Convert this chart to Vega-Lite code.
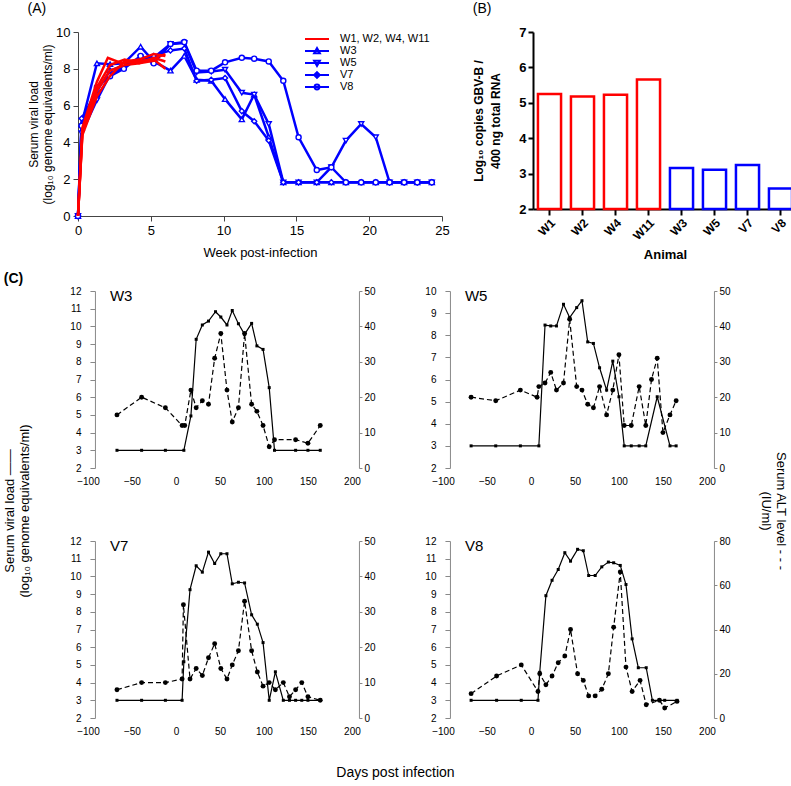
{
  "$schema": "https://vega.github.io/schema/vega-lite/v6.json",
  "padding": {"left": 3, "top": 2, "right": 0, "bottom": 0},
  "config": {
    "font": "Liberation Sans",
    "view": {"stroke": null},
    "axis": {"labelColor": "black", "titleColor": "black", "grid": false, "titleFontWeight": "normal", "labelFlush": false, "labelOverlap": false},
    "title": {"color": "black", "fontWeight": "normal"},
    "legend": {"labelColor": "black"}
  },
  "datasets": {
    "a": [
      {"id":"W1","grp":"W1, W2, W4, W11","w":0,"v":0},{"id":"W1","grp":"W1, W2, W4, W11","w":0.3,"v":4.8},{"id":"W1","grp":"W1, W2, W4, W11","w":1.3,"v":7.3},{"id":"W1","grp":"W1, W2, W4, W11","w":2.05,"v":8.6},{"id":"W1","grp":"W1, W2, W4, W11","w":3,"v":8.3},{"id":"W1","grp":"W1, W2, W4, W11","w":4,"v":8.4},{"id":"W1","grp":"W1, W2, W4, W11","w":5,"v":8.5},{"id":"W1","grp":"W1, W2, W4, W11","w":6,"v":8.8},
      {"id":"W2","grp":"W1, W2, W4, W11","w":0,"v":0},{"id":"W2","grp":"W1, W2, W4, W11","w":0.3,"v":4.5},{"id":"W2","grp":"W1, W2, W4, W11","w":1.3,"v":6.8},{"id":"W2","grp":"W1, W2, W4, W11","w":2.2,"v":7.9},{"id":"W2","grp":"W1, W2, W4, W11","w":3.2,"v":8.2},{"id":"W2","grp":"W1, W2, W4, W11","w":4.2,"v":8.3},{"id":"W2","grp":"W1, W2, W4, W11","w":5.2,"v":8.6},{"id":"W2","grp":"W1, W2, W4, W11","w":6,"v":8.4},
      {"id":"W4","grp":"W1, W2, W4, W11","w":0,"v":0},{"id":"W4","grp":"W1, W2, W4, W11","w":0.3,"v":4.4},{"id":"W4","grp":"W1, W2, W4, W11","w":1.3,"v":6.5},{"id":"W4","grp":"W1, W2, W4, W11","w":2.2,"v":7.6},{"id":"W4","grp":"W1, W2, W4, W11","w":3.2,"v":8.4},{"id":"W4","grp":"W1, W2, W4, W11","w":4.2,"v":8.5},{"id":"W4","grp":"W1, W2, W4, W11","w":5.2,"v":8.8},{"id":"W4","grp":"W1, W2, W4, W11","w":6,"v":8.7},
      {"id":"W11","grp":"W1, W2, W4, W11","w":0,"v":0},{"id":"W11","grp":"W1, W2, W4, W11","w":0.3,"v":4.6},{"id":"W11","grp":"W1, W2, W4, W11","w":1.3,"v":7.0},{"id":"W11","grp":"W1, W2, W4, W11","w":2.2,"v":8.2},{"id":"W11","grp":"W1, W2, W4, W11","w":3.2,"v":8.5},{"id":"W11","grp":"W1, W2, W4, W11","w":4.2,"v":8.3},{"id":"W11","grp":"W1, W2, W4, W11","w":5.3,"v":8.45},{"id":"W11","grp":"W1, W2, W4, W11","w":6,"v":8.0},
      {"id":"W3","grp":"W3","w":0,"v":0},{"id":"W3","grp":"W3","w":0.25,"v":5.0},{"id":"W3","grp":"W3","w":1.3,"v":8.3},{"id":"W3","grp":"W3","w":2.2,"v":8.25},{"id":"W3","grp":"W3","w":3.15,"v":8.3},{"id":"W3","grp":"W3","w":4.3,"v":9.2},{"id":"W3","grp":"W3","w":5.2,"v":8.4},{"id":"W3","grp":"W3","w":6.35,"v":7.9},{"id":"W3","grp":"W3","w":7.3,"v":8.7},{"id":"W3","grp":"W3","w":8.15,"v":7.4},{"id":"W3","grp":"W3","w":9.15,"v":7.35},{"id":"W3","grp":"W3","w":10.1,"v":6.35},{"id":"W3","grp":"W3","w":11.25,"v":5.25},{"id":"W3","grp":"W3","w":12.1,"v":6.6},{"id":"W3","grp":"W3","w":13.1,"v":4.3},{"id":"W3","grp":"W3","w":14.1,"v":1.83},{"id":"W3","grp":"W3","w":15.15,"v":1.83},{"id":"W3","grp":"W3","w":16.4,"v":1.83},{"id":"W3","grp":"W3","w":17.4,"v":1.83},{"id":"W3","grp":"W3","w":18.4,"v":1.83},{"id":"W3","grp":"W3","w":19.45,"v":1.83},{"id":"W3","grp":"W3","w":20.45,"v":1.83},{"id":"W3","grp":"W3","w":21.4,"v":1.83},{"id":"W3","grp":"W3","w":22.4,"v":1.83},{"id":"W3","grp":"W3","w":23.3,"v":1.83},{"id":"W3","grp":"W3","w":24.3,"v":1.83},
      {"id":"W5","grp":"W5","w":0,"v":0},{"id":"W5","grp":"W5","w":0.25,"v":4.5},{"id":"W5","grp":"W5","w":1.3,"v":6.3},{"id":"W5","grp":"W5","w":2.2,"v":7.7},{"id":"W5","grp":"W5","w":3.15,"v":8.1},{"id":"W5","grp":"W5","w":4.3,"v":8.6},{"id":"W5","grp":"W5","w":5.2,"v":8.6},{"id":"W5","grp":"W5","w":6.35,"v":9.35},{"id":"W5","grp":"W5","w":7.3,"v":9.4},{"id":"W5","grp":"W5","w":8.15,"v":7.8},{"id":"W5","grp":"W5","w":9.15,"v":7.85},{"id":"W5","grp":"W5","w":10.1,"v":7.95},{"id":"W5","grp":"W5","w":11.25,"v":6.7},{"id":"W5","grp":"W5","w":12.1,"v":6.6},{"id":"W5","grp":"W5","w":13.1,"v":5.0},{"id":"W5","grp":"W5","w":14.1,"v":1.83},{"id":"W5","grp":"W5","w":15.15,"v":1.83},{"id":"W5","grp":"W5","w":16.4,"v":1.83},{"id":"W5","grp":"W5","w":17.4,"v":2.65},{"id":"W5","grp":"W5","w":18.4,"v":4.1},{"id":"W5","grp":"W5","w":19.45,"v":5.0},{"id":"W5","grp":"W5","w":20.45,"v":4.28},{"id":"W5","grp":"W5","w":21.4,"v":1.83},{"id":"W5","grp":"W5","w":22.4,"v":1.83},{"id":"W5","grp":"W5","w":23.3,"v":1.83},{"id":"W5","grp":"W5","w":24.3,"v":1.83},
      {"id":"V7","grp":"V7","w":0,"v":0},{"id":"V7","grp":"V7","w":0.25,"v":5.3},{"id":"V7","grp":"V7","w":1.3,"v":6.8},{"id":"V7","grp":"V7","w":2.2,"v":7.9},{"id":"V7","grp":"V7","w":3.15,"v":8.2},{"id":"V7","grp":"V7","w":4.3,"v":8.5},{"id":"V7","grp":"V7","w":5.2,"v":8.7},{"id":"V7","grp":"V7","w":6.35,"v":9.0},{"id":"V7","grp":"V7","w":7.3,"v":9.1},{"id":"V7","grp":"V7","w":8.15,"v":7.35},{"id":"V7","grp":"V7","w":9.15,"v":7.4},{"id":"V7","grp":"V7","w":10.1,"v":7.5},{"id":"V7","grp":"V7","w":11.25,"v":5.7},{"id":"V7","grp":"V7","w":12.1,"v":5.15},{"id":"V7","grp":"V7","w":13.1,"v":4.1},{"id":"V7","grp":"V7","w":14.1,"v":1.83},{"id":"V7","grp":"V7","w":15.15,"v":1.83},{"id":"V7","grp":"V7","w":16.4,"v":1.83},{"id":"V7","grp":"V7","w":17.4,"v":1.83},{"id":"V7","grp":"V7","w":18.4,"v":1.83},{"id":"V7","grp":"V7","w":19.45,"v":1.83},{"id":"V7","grp":"V7","w":20.45,"v":1.83},{"id":"V7","grp":"V7","w":21.4,"v":1.83},{"id":"V7","grp":"V7","w":22.4,"v":1.83},{"id":"V7","grp":"V7","w":23.3,"v":1.83},{"id":"V7","grp":"V7","w":24.3,"v":1.83},
      {"id":"V8","grp":"V8","w":0,"v":0},{"id":"V8","grp":"V8","w":0.25,"v":4.9},{"id":"V8","grp":"V8","w":1.3,"v":7.0},{"id":"V8","grp":"V8","w":2.2,"v":7.6},{"id":"V8","grp":"V8","w":3.15,"v":8.0},{"id":"V8","grp":"V8","w":4.3,"v":8.7},{"id":"V8","grp":"V8","w":5.2,"v":8.3},{"id":"V8","grp":"V8","w":6.35,"v":9.35},{"id":"V8","grp":"V8","w":7.3,"v":9.45},{"id":"V8","grp":"V8","w":8.15,"v":7.9},{"id":"V8","grp":"V8","w":9.15,"v":7.9},{"id":"V8","grp":"V8","w":10.1,"v":8.35},{"id":"V8","grp":"V8","w":11.25,"v":8.6},{"id":"V8","grp":"V8","w":12.1,"v":8.55},{"id":"V8","grp":"V8","w":13.1,"v":8.4},{"id":"V8","grp":"V8","w":14.1,"v":7.35},{"id":"V8","grp":"V8","w":15.15,"v":4.28},{"id":"V8","grp":"V8","w":16.4,"v":2.5},{"id":"V8","grp":"V8","w":17.4,"v":2.65},{"id":"V8","grp":"V8","w":18.4,"v":1.83},{"id":"V8","grp":"V8","w":19.45,"v":1.83},{"id":"V8","grp":"V8","w":20.45,"v":1.83},{"id":"V8","grp":"V8","w":21.4,"v":1.83},{"id":"V8","grp":"V8","w":22.4,"v":1.83},{"id":"V8","grp":"V8","w":23.3,"v":1.83},{"id":"V8","grp":"V8","w":24.3,"v":1.83}
    ],
    "b": [
      {"animal":"W1","g":"red","v":5.25},{"animal":"W2","g":"red","v":5.18},{"animal":"W4","g":"red","v":5.23},{"animal":"W11","g":"red","v":5.66},
      {"animal":"W3","g":"blue","v":3.16},{"animal":"W5","g":"blue","v":3.11},{"animal":"V7","g":"blue","v":3.24},{"animal":"V8","g":"blue","v":2.58}
    ],
    "c": [
      {"a":"W3","k":"vl","d":-67,"v":3},{"a":"W3","k":"vl","d":-39,"v":3},{"a":"W3","k":"vl","d":-12,"v":3},{"a":"W3","k":"vl","d":9,"v":3},{"a":"W3","k":"vl","d":17,"v":4.94},{"a":"W3","k":"vl","d":23,"v":9.27},{"a":"W3","k":"vl","d":30,"v":10.08},{"a":"W3","k":"vl","d":37,"v":10.3},{"a":"W3","k":"vl","d":45,"v":10.83},{"a":"W3","k":"vl","d":51,"v":10.53},{"a":"W3","k":"vl","d":58,"v":10.08},{"a":"W3","k":"vl","d":64,"v":10.9},{"a":"W3","k":"vl","d":71,"v":10.15},{"a":"W3","k":"vl","d":78,"v":9.55},{"a":"W3","k":"vl","d":86,"v":10.17},{"a":"W3","k":"vl","d":92,"v":8.9},{"a":"W3","k":"vl","d":99,"v":8.7},{"a":"W3","k":"vl","d":106,"v":6.54},{"a":"W3","k":"vl","d":112,"v":3},{"a":"W3","k":"vl","d":136,"v":3},{"a":"W3","k":"vl","d":150,"v":3},{"a":"W3","k":"vl","d":164,"v":3},
      {"a":"W3","k":"alt","d":-67,"v":15},{"a":"W3","k":"alt","d":-39,"v":20},{"a":"W3","k":"alt","d":-12,"v":17},{"a":"W3","k":"alt","d":7,"v":12},{"a":"W3","k":"alt","d":10,"v":12},{"a":"W3","k":"alt","d":17,"v":22},{"a":"W3","k":"alt","d":23,"v":17},{"a":"W3","k":"alt","d":30,"v":19},{"a":"W3","k":"alt","d":37,"v":18},{"a":"W3","k":"alt","d":44,"v":31},{"a":"W3","k":"alt","d":51,"v":38},{"a":"W3","k":"alt","d":58,"v":22},{"a":"W3","k":"alt","d":64,"v":13},{"a":"W3","k":"alt","d":71,"v":17},{"a":"W3","k":"alt","d":78,"v":38},{"a":"W3","k":"alt","d":86,"v":18},{"a":"W3","k":"alt","d":92,"v":16},{"a":"W3","k":"alt","d":99,"v":12},{"a":"W3","k":"alt","d":106,"v":6},{"a":"W3","k":"alt","d":112,"v":8},{"a":"W3","k":"alt","d":136,"v":8},{"a":"W3","k":"alt","d":150,"v":7},{"a":"W3","k":"alt","d":164,"v":12},
      {"a":"W5","k":"vl","d":-68,"v":3},{"a":"W5","k":"vl","d":-40,"v":3},{"a":"W5","k":"vl","d":-12,"v":3},{"a":"W5","k":"vl","d":9,"v":3},{"a":"W5","k":"vl","d":16,"v":8.46},{"a":"W5","k":"vl","d":22.5,"v":8.42},{"a":"W5","k":"vl","d":29,"v":8.42},{"a":"W5","k":"vl","d":37,"v":9.4},{"a":"W5","k":"vl","d":44,"v":8.8},{"a":"W5","k":"vl","d":52,"v":9.25},{"a":"W5","k":"vl","d":58,"v":9.56},{"a":"W5","k":"vl","d":64.5,"v":7.7},{"a":"W5","k":"vl","d":71,"v":7.63},{"a":"W5","k":"vl","d":78,"v":6.53},{"a":"W5","k":"vl","d":86,"v":5.52},{"a":"W5","k":"vl","d":93,"v":6.83},{"a":"W5","k":"vl","d":100,"v":5.22},{"a":"W5","k":"vl","d":106,"v":3},{"a":"W5","k":"vl","d":114,"v":3},{"a":"W5","k":"vl","d":123,"v":3},{"a":"W5","k":"vl","d":130.5,"v":3},{"a":"W5","k":"vl","d":143.5,"v":5.22},{"a":"W5","k":"vl","d":158,"v":3},{"a":"W5","k":"vl","d":165,"v":3},
      {"a":"W5","k":"alt","d":-68,"v":20},{"a":"W5","k":"alt","d":-40,"v":19},{"a":"W5","k":"alt","d":-12,"v":22},{"a":"W5","k":"alt","d":7,"v":20},{"a":"W5","k":"alt","d":9,"v":23},{"a":"W5","k":"alt","d":16,"v":24},{"a":"W5","k":"alt","d":22.5,"v":27},{"a":"W5","k":"alt","d":29,"v":22},{"a":"W5","k":"alt","d":37,"v":24},{"a":"W5","k":"alt","d":44,"v":42},{"a":"W5","k":"alt","d":52,"v":23},{"a":"W5","k":"alt","d":58,"v":22},{"a":"W5","k":"alt","d":64.5,"v":18},{"a":"W5","k":"alt","d":71,"v":17},{"a":"W5","k":"alt","d":78,"v":23},{"a":"W5","k":"alt","d":86,"v":15},{"a":"W5","k":"alt","d":93,"v":22},{"a":"W5","k":"alt","d":100,"v":32},{"a":"W5","k":"alt","d":106,"v":12},{"a":"W5","k":"alt","d":114,"v":12},{"a":"W5","k":"alt","d":123,"v":23},{"a":"W5","k":"alt","d":130.5,"v":12},{"a":"W5","k":"alt","d":137,"v":25},{"a":"W5","k":"alt","d":143.5,"v":31},{"a":"W5","k":"alt","d":150,"v":10},{"a":"W5","k":"alt","d":158,"v":15},{"a":"W5","k":"alt","d":165,"v":19},
      {"a":"V7","k":"vl","d":-67,"v":3},{"a":"V7","k":"vl","d":-39,"v":3},{"a":"V7","k":"vl","d":-12,"v":3},{"a":"V7","k":"vl","d":7,"v":3},{"a":"V7","k":"vl","d":9,"v":5.18},{"a":"V7","k":"vl","d":16,"v":9.25},{"a":"V7","k":"vl","d":23,"v":10.6},{"a":"V7","k":"vl","d":30,"v":10.24},{"a":"V7","k":"vl","d":37,"v":11.37},{"a":"V7","k":"vl","d":44,"v":10.73},{"a":"V7","k":"vl","d":51,"v":11.28},{"a":"V7","k":"vl","d":58,"v":11.28},{"a":"V7","k":"vl","d":64,"v":9.58},{"a":"V7","k":"vl","d":71,"v":9.67},{"a":"V7","k":"vl","d":78,"v":9.63},{"a":"V7","k":"vl","d":86,"v":7.83},{"a":"V7","k":"vl","d":92.5,"v":7.3},{"a":"V7","k":"vl","d":99,"v":6.26},{"a":"V7","k":"vl","d":106,"v":3},{"a":"V7","k":"vl","d":113,"v":4.61},{"a":"V7","k":"vl","d":122,"v":3},{"a":"V7","k":"vl","d":129,"v":3},{"a":"V7","k":"vl","d":136,"v":3},{"a":"V7","k":"vl","d":143,"v":3},{"a":"V7","k":"vl","d":150,"v":3},{"a":"V7","k":"vl","d":164,"v":3},
      {"a":"V7","k":"alt","d":-67,"v":8},{"a":"V7","k":"alt","d":-39,"v":10},{"a":"V7","k":"alt","d":-12,"v":10},{"a":"V7","k":"alt","d":7,"v":11},{"a":"V7","k":"alt","d":8.5,"v":32},{"a":"V7","k":"alt","d":16,"v":11},{"a":"V7","k":"alt","d":23,"v":14},{"a":"V7","k":"alt","d":30,"v":12},{"a":"V7","k":"alt","d":37,"v":17},{"a":"V7","k":"alt","d":44,"v":21},{"a":"V7","k":"alt","d":51,"v":14},{"a":"V7","k":"alt","d":58,"v":11},{"a":"V7","k":"alt","d":64,"v":15},{"a":"V7","k":"alt","d":71,"v":19},{"a":"V7","k":"alt","d":78,"v":33},{"a":"V7","k":"alt","d":86,"v":19},{"a":"V7","k":"alt","d":92.5,"v":13},{"a":"V7","k":"alt","d":99,"v":9},{"a":"V7","k":"alt","d":106,"v":10},{"a":"V7","k":"alt","d":113,"v":8},{"a":"V7","k":"alt","d":122,"v":10},{"a":"V7","k":"alt","d":129,"v":6},{"a":"V7","k":"alt","d":136,"v":8},{"a":"V7","k":"alt","d":143,"v":10},{"a":"V7","k":"alt","d":150,"v":6},{"a":"V7","k":"alt","d":164,"v":5},
      {"a":"V8","k":"vl","d":-68,"v":3},{"a":"V8","k":"vl","d":-39,"v":3},{"a":"V8","k":"vl","d":-11,"v":3},{"a":"V8","k":"vl","d":8,"v":3},{"a":"V8","k":"vl","d":10,"v":4.58},{"a":"V8","k":"vl","d":17,"v":8.91},{"a":"V8","k":"vl","d":24,"v":9.78},{"a":"V8","k":"vl","d":31,"v":10.39},{"a":"V8","k":"vl","d":38.5,"v":11.34},{"a":"V8","k":"vl","d":45,"v":10.86},{"a":"V8","k":"vl","d":53,"v":11.53},{"a":"V8","k":"vl","d":59.5,"v":11.45},{"a":"V8","k":"vl","d":65.6,"v":10.05},{"a":"V8","k":"vl","d":73,"v":10.05},{"a":"V8","k":"vl","d":80.5,"v":10.54},{"a":"V8","k":"vl","d":88,"v":10.81},{"a":"V8","k":"vl","d":94,"v":10.77},{"a":"V8","k":"vl","d":101.5,"v":10.62},{"a":"V8","k":"vl","d":108,"v":9.54},{"a":"V8","k":"vl","d":115,"v":6.47},{"a":"V8","k":"vl","d":122,"v":4.84},{"a":"V8","k":"vl","d":131,"v":4.84},{"a":"V8","k":"vl","d":138,"v":3},{"a":"V8","k":"vl","d":146,"v":3},{"a":"V8","k":"vl","d":152,"v":3},{"a":"V8","k":"vl","d":166,"v":3},
      {"a":"V8","k":"alt","d":-68,"v":11},{"a":"V8","k":"alt","d":-39,"v":19},{"a":"V8","k":"alt","d":-11,"v":24},{"a":"V8","k":"alt","d":8,"v":12},{"a":"V8","k":"alt","d":10,"v":20},{"a":"V8","k":"alt","d":17,"v":15},{"a":"V8","k":"alt","d":24,"v":19},{"a":"V8","k":"alt","d":31,"v":25},{"a":"V8","k":"alt","d":38.5,"v":28},{"a":"V8","k":"alt","d":45,"v":40},{"a":"V8","k":"alt","d":53,"v":20},{"a":"V8","k":"alt","d":59.5,"v":17},{"a":"V8","k":"alt","d":65.6,"v":10},{"a":"V8","k":"alt","d":73,"v":10},{"a":"V8","k":"alt","d":80.5,"v":13},{"a":"V8","k":"alt","d":88,"v":20},{"a":"V8","k":"alt","d":94,"v":41},{"a":"V8","k":"alt","d":101.5,"v":66},{"a":"V8","k":"alt","d":108,"v":23},{"a":"V8","k":"alt","d":115,"v":12},{"a":"V8","k":"alt","d":124,"v":17},{"a":"V8","k":"alt","d":131,"v":6},{"a":"V8","k":"alt","d":146,"v":8},{"a":"V8","k":"alt","d":152,"v":4.5},{"a":"V8","k":"alt","d":166,"v":7.5}
    ]
  },
  "center": true,
  "spacing": 10,
  "vconcat": [
    {
      "spacing": 22,
      "hconcat": [
        {
          "width": 364, "height": 184,
          "title": {"text": "(A)", "anchor": "start", "frame": "bounds", "fontSize": 14, "offset": 10},
          "data": {"name": "a"},
          "encoding": {
            "x": {"field": "w", "type": "quantitative", "scale": {"domain": [0, 25], "nice": false}, "axis": {"title": "Week post-infection", "values": [0, 5, 10, 15, 20, 25], "labelOverlap": false, "labelFontSize": 13, "titleFontSize": 13, "tickSize": 5, "domainColor": "#444", "tickColor": "#444", "labelPadding": 3, "titlePadding": 9}},
            "y": {"field": "v", "type": "quantitative", "scale": {"domain": [0, 10], "nice": false}, "axis": {"title": ["Serum viral load", "(log₁₀ genome equivalents/ml)"], "values": [0, 2, 4, 6, 8, 10], "labelOverlap": false, "labelFontSize": 13, "titleFontSize": 12, "tickSize": 5, "domainColor": "#444", "tickColor": "#444", "labelPadding": 3, "titlePadding": 1}}
          },
          "layer": [
            {
              "transform": [{"filter": "datum.grp !== 'W1, W2, W4, W11'"}],
              "mark": {"type": "line", "strokeWidth": 2.5},
              "encoding": {
                "color": {"field": "grp", "type": "nominal",
                  "scale": {"domain": ["W1, W2, W4, W11", "W3", "W5", "V7", "V8"], "range": ["#ff0000", "#0000ff", "#0000ff", "#0000ff", "#0000ff"]},
                  "legend": {"title": null, "orient": "none", "legendX": 226, "legendY": 1, "labelFontSize": 11, "symbolSize": 576, "clipHeight": 12, "rowPadding": 0, "labelOffset": 10, "padding": 0, "symbolFillColor": "white",
                    "encode": {"symbols": {
                      "enter": {"fill": {"value": "white"}},
                      "update": {
                      "shape": {"signal": "datum.value === 'W3' ? 'M-1,0H1M0,-0.24L0.24,0.18L-0.24,0.18Z' : datum.value === 'W5' ? 'M-1,0H1M0,0.24L0.24,-0.18L-0.24,-0.18Z' : datum.value === 'V7' ? 'M-1,0H1M0,-0.24L0.24,0L0,0.24L-0.24,0Z' : datum.value === 'V8' ? 'M-1,0H1M0.2,0A0.2,0.2,0,1,1,-0.2,0A0.2,0.2,0,1,1,0.2,0Z' : 'M-1,0H1'"},
                      "stroke": {"signal": "datum.value === 'W1, W2, W4, W11' ? '#ff0000' : '#0000ff'"},
                      "fill": {"value": "white"}, "strokeWidth": {"value": 2}, "size": {"value": 576},
                      "opacity": {"value": 1}, "fillOpacity": {"value": 1}, "strokeOpacity": {"value": 1}}}}}},
                "detail": {"field": "id"}
              }
            },
            {
              "transform": [{"filter": "datum.grp !== 'W1, W2, W4, W11'"}],
              "mark": {"type": "point", "filled": true, "fill": "white", "stroke": "#0000ff", "strokeWidth": 1.4, "size": 26, "opacity": 1},
              "encoding": {
                "shape": {"field": "grp", "type": "nominal", "scale": {"domain": ["W3", "W5", "V7", "V8"], "range": ["triangle-up", "triangle-down", "diamond", "circle"]}, "legend": null}
              }
            },
            {
              "transform": [{"filter": "datum.grp === 'W1, W2, W4, W11'"}],
              "mark": {"type": "line", "strokeWidth": 2.5},
              "encoding": {
                "color": {"field": "grp", "type": "nominal"},
                "detail": {"field": "id"}
              }
            },
            {
              "data": {"values": [{}]},
              "mark": {"type": "rule", "strokeDash": [4, 3], "strokeWidth": 1, "color": "black"},
              "encoding": {"x": null, "y": {"datum": 2, "type": "quantitative", "axis": {"title": ["Serum viral load", "(log₁₀ genome equivalents/ml)"], "values": [0, 2, 4, 6, 8, 10], "labelOverlap": false, "labelFontSize": 13, "titleFontSize": 12, "tickSize": 5, "domainColor": "#444", "tickColor": "#444", "labelPadding": 3, "titlePadding": 1}}}
            }
          ]
        },
        {
          "width": 264, "height": 177,
          "title": {"text": "(B)", "anchor": "start", "frame": "bounds", "fontSize": 14, "offset": 10},
          "data": {"name": "b"},
          "mark": {"type": "bar", "fill": "white", "strokeWidth": 2.5},
          "encoding": {
            "x": {"field": "animal", "type": "nominal", "sort": null, "scale": {"paddingInner": 0.3, "paddingOuter": 0.15},
              "axis": {"title": "Animal", "labelAngle": -45, "labelFontWeight": "bold", "labelFontSize": 12, "titleFontWeight": "bold", "titleFontSize": 13, "titlePadding": 7, "domainColor": "black", "domainWidth": 2, "tickColor": "black", "tickWidth": 2, "tickSize": 6, "labelPadding": 2}},
            "y": {"field": "v", "type": "quantitative", "scale": {"domain": [2, 7], "nice": false, "zero": false},
              "axis": {"title": ["Log₁₀ copies GBV-B /", "400 ng total RNA"], "values": [2, 3, 4, 5, 6, 7], "labelOverlap": false, "labelFontWeight": "bold", "labelFontSize": 13, "titleFontWeight": "bold", "titleFontSize": 12, "titleLineHeight": 17, "domainColor": "black", "domainWidth": 2, "tickColor": "black", "tickWidth": 2, "tickSize": 5, "titlePadding": 16}},
            "y2": {"datum": 2},
            "stroke": {"field": "g", "type": "nominal", "scale": {"domain": ["red", "blue"], "range": ["#ff0000", "#0000ff"]}, "legend": null}
          }
        }
      ]
    },
    {
      "title": {"text": "Days post infection", "orient": "bottom", "anchor": "middle", "fontSize": 14, "offset": 30},
      "vconcat": [
        {
          "title": {"text": "(C)", "anchor": "start", "frame": "bounds", "fontSize": 14, "fontWeight": "bold", "offset": 0},
          "vconcat": [
            {
              "title": {"text": ["Serum ALT level  - - -", "(IU/ml)"], "orient": "right", "anchor": "middle", "fontSize": 13, "offset": 29},
              "hconcat": [
                {
                  "title": {"text": ["Serum viral load  ——", "(log₁₀ genome equivalents/ml)"], "orient": "left", "anchor": "middle", "fontSize": 13, "offset": 38},
                  "spacing": 50,
                  "vconcat": [
                    {
                      "spacing": 48,
                      "hconcat": [
                        {
                          "width": 264, "height": 177,
                          "title": {"text": "W3", "anchor": "start", "frame": "group", "offset": -18, "dx": 22, "fontSize": 15},
                          "data": {"name": "c"},
                          "transform": [{"filter": "datum.a === 'W3'"}],
                          "layer": [
                            {"transform": [{"filter": "datum.k === 'vl'"}],
                             "encoding": {
                               "x": {"field": "d", "type": "quantitative", "scale": {"domain": [-100, 200], "nice": false}, "axis": {"title": null, "values": [-100, -50, 0, 50, 100, 150, 200], "labelOverlap": false, "domain": false, "ticks": false, "labelFontSize": 10, "labelPadding": 8}},
                               "y": {"field": "v", "type": "quantitative", "scale": {"domain": [2, 12], "nice": false}, "axis": {"orient": "left", "offset": -7, "title": null, "values": [2, 3, 4, 5, 6, 7, 8, 9, 10, 11, 12], "labelOverlap": false, "labelFontSize": 10, "tickSize": 5, "labelPadding": 9, "domainColor": "#888", "tickColor": "#888"}}},
                             "layer": [{"mark": {"type": "line", "color": "black", "strokeWidth": 1.2}}, {"mark": {"type": "square", "size": 9, "color": "black", "opacity": 1}}]},
                            {"transform": [{"filter": "datum.k === 'alt'"}],
                             "encoding": {
                               "x": {"field": "d", "type": "quantitative", "axis": {"title": null, "values": [-100, -50, 0, 50, 100, 150, 200], "labelOverlap": false, "domain": false, "ticks": false, "labelFontSize": 10, "labelPadding": 8}},
                               "y": {"field": "v", "type": "quantitative", "scale": {"domain": [0, 50], "nice": false}, "axis": {"orient": "right", "offset": 7, "title": null, "values": [0, 10, 20, 30, 40, 50], "labelOverlap": false, "labelFontSize": 10, "tickSize": 3, "labelPadding": 2, "domainColor": "#888", "tickColor": "#888"}}},
                             "layer": [{"mark": {"type": "line", "color": "black", "strokeWidth": 1.2, "strokeDash": [5, 3]}}, {"mark": {"type": "circle", "size": 24, "color": "black", "opacity": 1}}]}
                          ],
                          "resolve": {"scale": {"y": "independent"}}
                        },
                        {
                          "width": 264, "height": 177,
                          "title": {"text": "W5", "anchor": "start", "frame": "group", "offset": -18, "dx": 22, "fontSize": 15},
                          "data": {"name": "c"},
                          "transform": [{"filter": "datum.a === 'W5'"}],
                          "layer": [
                            {"transform": [{"filter": "datum.k === 'vl'"}],
                             "encoding": {
                               "x": {"field": "d", "type": "quantitative", "scale": {"domain": [-100, 200], "nice": false}, "axis": {"title": null, "values": [-100, -50, 0, 50, 100, 150, 200], "labelOverlap": false, "domain": false, "ticks": false, "labelFontSize": 10, "labelPadding": 8}},
                               "y": {"field": "v", "type": "quantitative", "scale": {"domain": [2, 10], "nice": false}, "axis": {"orient": "left", "offset": -7, "title": null, "values": [2, 3, 4, 5, 6, 7, 8, 9, 10], "labelOverlap": false, "labelFontSize": 10, "tickSize": 5, "labelPadding": 9, "domainColor": "#888", "tickColor": "#888"}}},
                             "layer": [{"mark": {"type": "line", "color": "black", "strokeWidth": 1.2}}, {"mark": {"type": "square", "size": 9, "color": "black", "opacity": 1}}]},
                            {"transform": [{"filter": "datum.k === 'alt'"}],
                             "encoding": {
                               "x": {"field": "d", "type": "quantitative", "axis": {"title": null, "values": [-100, -50, 0, 50, 100, 150, 200], "labelOverlap": false, "domain": false, "ticks": false, "labelFontSize": 10, "labelPadding": 8}},
                               "y": {"field": "v", "type": "quantitative", "scale": {"domain": [0, 50], "nice": false}, "axis": {"orient": "right", "offset": 7, "title": null, "values": [0, 10, 20, 30, 40, 50], "labelOverlap": false, "labelFontSize": 10, "tickSize": 3, "labelPadding": 2, "domainColor": "#888", "tickColor": "#888"}}},
                             "layer": [{"mark": {"type": "line", "color": "black", "strokeWidth": 1.2, "strokeDash": [5, 3]}}, {"mark": {"type": "circle", "size": 24, "color": "black", "opacity": 1}}]}
                          ],
                          "resolve": {"scale": {"y": "independent"}}
                        }
                      ]
                    },
                    {
                      "spacing": 48,
                      "hconcat": [
                        {
                          "width": 264, "height": 177,
                          "title": {"text": "V7", "anchor": "start", "frame": "group", "offset": -18, "dx": 22, "fontSize": 15},
                          "data": {"name": "c"},
                          "transform": [{"filter": "datum.a === 'V7'"}],
                          "layer": [
                            {"transform": [{"filter": "datum.k === 'vl'"}],
                             "encoding": {
                               "x": {"field": "d", "type": "quantitative", "scale": {"domain": [-100, 200], "nice": false}, "axis": {"title": null, "values": [-100, -50, 0, 50, 100, 150, 200], "labelOverlap": false, "domain": false, "ticks": false, "labelFontSize": 10, "labelPadding": 8}},
                               "y": {"field": "v", "type": "quantitative", "scale": {"domain": [2, 12], "nice": false}, "axis": {"orient": "left", "offset": -7, "title": null, "values": [2, 3, 4, 5, 6, 7, 8, 9, 10, 11, 12], "labelOverlap": false, "labelFontSize": 10, "tickSize": 5, "labelPadding": 9, "domainColor": "#888", "tickColor": "#888"}}},
                             "layer": [{"mark": {"type": "line", "color": "black", "strokeWidth": 1.2}}, {"mark": {"type": "square", "size": 9, "color": "black", "opacity": 1}}]},
                            {"transform": [{"filter": "datum.k === 'alt'"}],
                             "encoding": {
                               "x": {"field": "d", "type": "quantitative", "axis": {"title": null, "values": [-100, -50, 0, 50, 100, 150, 200], "labelOverlap": false, "domain": false, "ticks": false, "labelFontSize": 10, "labelPadding": 8}},
                               "y": {"field": "v", "type": "quantitative", "scale": {"domain": [0, 50], "nice": false}, "axis": {"orient": "right", "offset": 7, "title": null, "values": [0, 10, 20, 30, 40, 50], "labelOverlap": false, "labelFontSize": 10, "tickSize": 3, "labelPadding": 2, "domainColor": "#888", "tickColor": "#888"}}},
                             "layer": [{"mark": {"type": "line", "color": "black", "strokeWidth": 1.2, "strokeDash": [5, 3]}}, {"mark": {"type": "circle", "size": 24, "color": "black", "opacity": 1}}]}
                          ],
                          "resolve": {"scale": {"y": "independent"}}
                        },
                        {
                          "width": 264, "height": 177,
                          "title": {"text": "V8", "anchor": "start", "frame": "group", "offset": -18, "dx": 22, "fontSize": 15},
                          "data": {"name": "c"},
                          "transform": [{"filter": "datum.a === 'V8'"}],
                          "layer": [
                            {"transform": [{"filter": "datum.k === 'vl'"}],
                             "encoding": {
                               "x": {"field": "d", "type": "quantitative", "scale": {"domain": [-100, 200], "nice": false}, "axis": {"title": null, "values": [-100, -50, 0, 50, 100, 150, 200], "labelOverlap": false, "domain": false, "ticks": false, "labelFontSize": 10, "labelPadding": 8}},
                               "y": {"field": "v", "type": "quantitative", "scale": {"domain": [2, 12], "nice": false}, "axis": {"orient": "left", "offset": -7, "title": null, "values": [2, 3, 4, 5, 6, 7, 8, 9, 10, 11, 12], "labelOverlap": false, "labelFontSize": 10, "tickSize": 5, "labelPadding": 9, "domainColor": "#888", "tickColor": "#888"}}},
                             "layer": [{"mark": {"type": "line", "color": "black", "strokeWidth": 1.2}}, {"mark": {"type": "square", "size": 9, "color": "black", "opacity": 1}}]},
                            {"transform": [{"filter": "datum.k === 'alt'"}],
                             "encoding": {
                               "x": {"field": "d", "type": "quantitative", "axis": {"title": null, "values": [-100, -50, 0, 50, 100, 150, 200], "labelOverlap": false, "domain": false, "ticks": false, "labelFontSize": 10, "labelPadding": 8}},
                               "y": {"field": "v", "type": "quantitative", "scale": {"domain": [0, 80], "nice": false}, "axis": {"orient": "right", "offset": 7, "title": null, "values": [0, 20, 40, 60, 80], "labelOverlap": false, "labelFontSize": 10, "tickSize": 3, "labelPadding": 2, "domainColor": "#888", "tickColor": "#888"}}},
                             "layer": [{"mark": {"type": "line", "color": "black", "strokeWidth": 1.2, "strokeDash": [5, 3]}}, {"mark": {"type": "circle", "size": 24, "color": "black", "opacity": 1}}]}
                          ],
                          "resolve": {"scale": {"y": "independent"}}
                        }
                      ]
                    }
                  ]
                }
              ]
            }
          ]
        }
      ]
    }
  ]
}
